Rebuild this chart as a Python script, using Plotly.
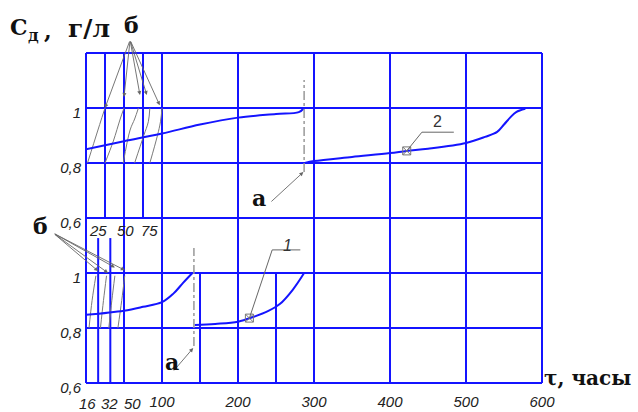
import plotly.graph_objects as go

# ---------------- data ----------------
# x ticks (hours)
x_ticks_main = [100, 200, 300, 400, 500, 600]
x_ticks_small = [16, 32, 50]
upper_small_labels = [25, 50, 75]

# curve 2 (upper panel): before and after regeneration
c2a_x = [0, 50, 100, 150, 200, 250, 280, 287]
c2a_y = [0.850, 0.879, 0.907, 0.940, 0.965, 0.978, 0.985, 1.0]
c2b_x = [288, 300, 350, 400, 422, 450, 500, 525, 541, 550, 558, 566, 578]
c2b_y = [0.800, 0.807, 0.822, 0.836, 0.844, 0.852, 0.873, 0.895, 0.913, 0.940, 0.965, 0.985, 0.997]

# curve 1 (lower panel)
c1a_x = [0, 50, 75, 100, 115, 128, 140]
c1a_y = [0.848, 0.863, 0.877, 0.894, 0.925, 0.965, 1.0]
c1b_x = [143, 170, 200, 220, 240, 255, 272, 287]
c1b_y = [0.811, 0.815, 0.823, 0.840, 0.862, 0.887, 0.939, 1.0]

# thin "б" curves (short runs)
upper_b = [
    ([2, 10, 18, 25], [0.80, 0.87, 0.94, 1.0]),
    ([25, 36, 45, 50], [0.80, 0.88, 0.96, 1.0]),
    ([49, 58, 64, 69], [0.80, 0.92, 0.96, 1.0]),
    ([64, 76, 82, 84], [0.80, 0.90, 0.95, 1.0]),
    ([84, 94, 98, 100], [0.80, 0.90, 0.95, 1.0]),
]
lower_b = [
    ([4, 8, 13], [0.80, 0.90, 0.99]),
    ([19, 23, 27], [0.80, 0.90, 0.99]),
    ([30, 34, 38], [0.80, 0.90, 0.99]),
    ([42, 47, 51], [0.80, 0.90, 0.99]),
]
upper_b_tips = [(25, 1.0), (50, 1.04), (71, 1.047), (80, 1.047), (97, 1.01)]
lower_b_tips = [(16, 1.007), (29, 1.0), (38, 1.02), (51, 1.01)]

marker2 = (422, 0.844)
marker1 = (215, 0.836)

BLUE = "#1414ff"
GRAY = "#7a7a7a"
SERIF = "DejaVu Serif"
SANS = "Liberation Sans"

L, R, T, B = 86, 96, 53, 29
W, H = 638, 412


def pxx(xp):
    return (xp - L) / (W - L - R)


def pxy(yp):
    return (H - B - yp) / (H - T - B)


fig = go.Figure()

# thin б curves
for xs, ys in upper_b:
    fig.add_trace(go.Scatter(x=xs, y=ys, mode="lines", line=dict(color=GRAY, width=1, shape="spline"),
                             xaxis="x", yaxis="y", showlegend=False, hoverinfo="skip"))
for xs, ys in lower_b:
    fig.add_trace(go.Scatter(x=xs, y=ys, mode="lines", line=dict(color=GRAY, width=1, shape="spline"),
                             xaxis="x", yaxis="y2", showlegend=False, hoverinfo="skip"))

# main curves
for xs, ys, ya in [(c2a_x, c2a_y, "y"), (c2b_x, c2b_y, "y"), (c1a_x, c1a_y, "y2"), (c1b_x, c1b_y, "y2")]:
    fig.add_trace(go.Scatter(x=xs, y=ys, mode="lines", line=dict(color=BLUE, width=2, shape="spline"),
                             xaxis="x", yaxis=ya, showlegend=False))

# markers
fig.add_trace(go.Scatter(x=[marker2[0]], y=[marker2[1]], mode="markers", xaxis="x", yaxis="y",
                         marker=dict(symbol="square-x-open", size=8, color="#777", line=dict(width=1)),
                         showlegend=False))
fig.add_trace(go.Scatter(x=[marker1[0]], y=[marker1[1]], mode="markers", xaxis="x", yaxis="y2",
                         marker=dict(symbol="square-x-open", size=8, color="#777", line=dict(width=1)),
                         showlegend=False))

shapes = []


def line(x0, y0, x1, y1, xref, yref, color=BLUE, width=2, dash="solid", layer="below"):
    shapes.append(dict(type="line", x0=x0, y0=y0, x1=x1, y1=y1, xref=xref, yref=yref,
                       line=dict(color=color, width=width, dash=dash), layer=layer))


# frame
for yy in [0, 0.5, 1]:
    line(0, yy, 1, yy, "paper", "paper")
line(0, 0, 0, 1, "paper", "paper")
line(1, 0, 1, 1, "paper", "paper")
# upper grid
for yv in [1.0, 0.8]:
    line(0, yv, 600, yv, "x", "y")
for xv in [25, 50, 75, 100, 200, 300, 400, 500]:
    line(xv, 0.6, xv, 1.2, "x", "y")
# lower grid
for yv in [1.0, 0.8]:
    line(0, yv, 600, yv, "x", "y2")
for xv in [50, 100, 200, 300, 400, 500]:
    line(xv, 0.6, xv, 1.2, "x", "y2")
for xv in [16, 32]:
    line(xv, 0.6, xv, 1.127, "x", "y2")
for xv in [150, 250]:
    line(xv, 0.6, xv, 1.0, "x", "y2")

# dash-dot regeneration markers
line(287, 0.767, 287, 1.102, "x", "y", color="#999", width=1.5, dash="dashdot", layer="above")
line(142, 0.735, 142, 1.091, "x", "y2", color="#999", width=1.5, dash="dashdot", layer="above")

# leaders for labels 1 and 2
line(marker2[0], marker2[1], 442, 0.912, "x", "y", color="#666", width=1, layer="above")
line(442, 0.912, 484, 0.912, "x", "y", color="#666", width=1, layer="above")
line(marker1[0], marker1[1], 245, 1.084, "x", "y2", color="#666", width=1, layer="above")
line(245, 1.084, 282, 1.084, "x", "y2", color="#666", width=1, layer="above")

ann = []
tickfont = dict(family=SANS, size=15, color="#222", style="italic")

# small x labels
for v, sh in zip(x_ticks_small, [-11, -1, 8]):
    ann.append(dict(x=v, y=pxy(403), xref="x", yref="paper", text=str(v), showarrow=False,
                    xshift=sh, font=tickfont, xanchor="center", yanchor="middle"))
for v, sh in zip(upper_small_labels, [-7, 1, 6]):
    ann.append(dict(x=v, y=1.156, xref="x", yref="y2", text=str(v), showarrow=False,
                    xshift=sh, font=tickfont, xanchor="center", yanchor="middle"))

# curve labels
ann.append(dict(x=463, y=0.95, xref="x", yref="y", text="2", showarrow=False,
                font=dict(family=SANS, size=16, color="#333")))
ann.append(dict(x=265, y=1.10, xref="x", yref="y2", text="1", showarrow=False,
                font=dict(family=SANS, size=16, color="#333", style="italic")))

# б arrows
for tx, ty in upper_b_tips:
    ann.append(dict(x=tx, y=ty, xref="x", yref="y", ax=58, ay=1.247, axref="x", ayref="y",
                    text="", showarrow=True, arrowhead=2, arrowsize=0.9, arrowwidth=0.9,
                    arrowcolor="#666", standoff=0))
for tx, ty in lower_b_tips:
    ann.append(dict(x=tx, y=ty, xref="x", yref="y2", ax=-43, ay=1.145, axref="x", ayref="y2",
                    text="", showarrow=True, arrowhead=2, arrowsize=0.9, arrowwidth=0.9,
                    arrowcolor="#666", standoff=0))
# а arrows
ann.append(dict(x=286, y=0.767, xref="x", yref="y", ax=242, ay=0.655, axref="x", ayref="y",
                text="", showarrow=True, arrowhead=2, arrowsize=0.9, arrowwidth=0.9,
                arrowcolor="#666", standoff=0))
ann.append(dict(x=141, y=0.727, xref="x", yref="y2", ax=114, ay=0.64, axref="x", ayref="y2",
                text="", showarrow=True, arrowhead=2, arrowsize=0.9, arrowwidth=0.9,
                arrowcolor="#666", standoff=0))

bold = dict(family=SERIF, color="#111", weight="bold")


def txt(xp, yp, s, size):
    ann.append(dict(x=pxx(xp), y=pxy(yp), xref="paper", yref="paper", text=s, showarrow=False,
                    xanchor="center", yanchor="middle", font=dict(size=size, **bold)))


txt(131, 25, "б", 22)
txt(40, 226, "б", 22)
txt(259, 198, "а", 22)
txt(172, 362, "а", 22)
txt(19, 27, "С", 22)
txt(33, 35, "д", 16)
txt(48, 31, ",", 22)
txt(89, 28, "г/л", 25)
txt(587, 378, "τ, часы", 20)

fig.update_layout(
    width=W, height=H, margin=dict(l=L, r=R, t=T, b=B, autoexpand=False),
    paper_bgcolor="white", plot_bgcolor="white",
    shapes=shapes, annotations=ann, showlegend=False,
    xaxis=dict(range=[0, 600], tickvals=x_ticks_main, ticktext=[str(v) for v in x_ticks_main],
               showgrid=False, zeroline=False, showline=False, ticks="", tickfont=tickfont,
               ticklabelstandoff=8, anchor="y2", automargin=False),
    yaxis=dict(domain=[0.5, 1], range=[0.6, 1.2], tickvals=[0.6, 0.8, 1.0], ticktext=["0,6", "0,8", "1"],
               showgrid=False, zeroline=False, showline=False, ticks="", tickfont=tickfont,
               ticklabelshift=5, ticklabelstandoff=4, anchor="x", automargin=False),
    yaxis2=dict(domain=[0, 0.5], range=[0.6, 1.2], tickvals=[0.6, 0.8, 1.0], ticktext=["0,6", "0,8", "1"],
                showgrid=False, zeroline=False, showline=False, ticks="", tickfont=tickfont,
                ticklabelshift=5, ticklabelstandoff=4, anchor="x", automargin=False),
)

fig.write_html("out.html")
